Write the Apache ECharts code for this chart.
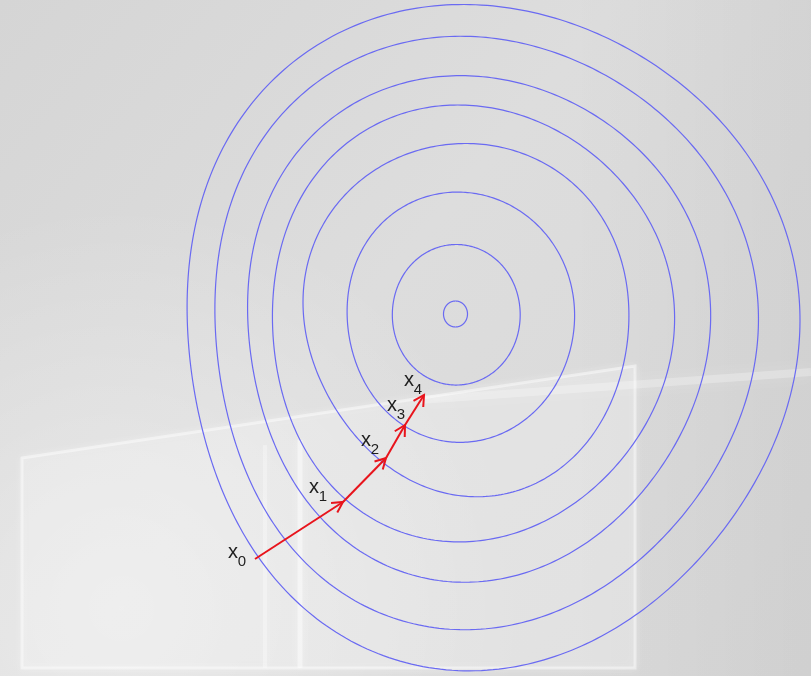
<!DOCTYPE html>
<html>
<head>
<meta charset="utf-8">
<script src="https://cdn.jsdelivr.net/npm/echarts@6/dist/echarts.min.js"></script>
<style>
  html, body { margin: 0; padding: 0; background: #dadada; }
  #chart { width: 811px; height: 676px; }
</style>
</head>
<body>
<div id="chart"></div>
<script>
// Level curves of the cost surface, innermost first.
// Each curve is a closed ring of [x, y] points in plot units (y grows downward).
const level0 = [[455.5,301],[464,304.8],[467.5,314],[464,323.2],[455.5,327],[447,323.2],[443.5,314],[447,304.8]];
const level1 = [[457,245],[497,260],[520,314],[497,370],[457,384],[415,370],[393,314],[415,260]];
const level2 = [[458,192],[497,200],[562.5,260],[575,316],[562.5,370],[518,425],[458,443],[405,425],[358,370],[347,316],[358,260],[415,200]];
const level3 = [[458,143],[587,200],[622,260],[630,314],[622,370],[582,445],[458,500],[386,458],[311,370],[305,314],[311,260],[338.8,200]];
const level4 = [[458,106],[554,130],[638,200],[666.7,260],[673,314],[666.7,370],[630,450],[581,500],[520,532],[458,540],[400,529],[343,502],[305,450],[278.3,370],[273,314],[278.3,260],[298.8,200],[364,130]];
const level5 = [[458,77],[530,86],[616,130],[681,200],[703.5,260],[709,314],[703.5,370],[674,450],[591,540],[458,580],[378,562],[317,518],[280,450],[251.8,370],[248,314],[251.8,260],[269.3,200],[315,130],[380,91]];
const level6 = [[458,38],[569,60],[681,130],[732,200],[750.5,260],[757,314],[750.5,370],[728,450],[664,540],[578,600],[458,628],[355,600],[282,542],[240,450],[219,370],[215,314],[219,260],[232.6,200],[267.3,130],[350,60]];
const level7 = [[458,6.5],[550,18],[648,60],[732,130],[774,200],[793.5,260],[798,314],[793.5,370],[771,450],[720,540],[629,620],[540,660],[458,668],[360,645],[300,606],[255,559],[210,450],[191,370],[188,314],[191,260],[203.5,200],[230.5,130],[289,60],[370,22]];
const levels = [level0, level1, level2, level3, level4, level5, level6, level7];

// Gradient-descent iterates x0 .. x4
const stepIndex = ['0', '1', '2', '3', '4'];
const stepX = [255, 343, 386, 405, 424];
const stepY = [559, 502, 458, 425, 395];

// Where each "x" label sits relative to its iterate (pixels)
const labelShift = [[-22, -7], [-29, -15], [-20, -18], [-13, -20], [-15, -15]];

const contourColor = '#6a6af2';
const arrowColor = '#e8141c';
const textFont = '"Liberation Sans", Arial, sans-serif';

// Solve a small dense linear system (Gaussian elimination, partial pivoting).
function solve(A, b) {
  const n = b.length;
  const M = A.map((row, i) => row.concat([b[i]]));
  for (let c = 0; c < n; c++) {
    let p = c;
    for (let r = c + 1; r < n; r++) if (Math.abs(M[r][c]) > Math.abs(M[p][c])) p = r;
    [M[c], M[p]] = [M[p], M[c]];
    for (let r = c + 1; r < n; r++) {
      const f = M[r][c] / M[c][c];
      for (let k = c; k <= n; k++) M[r][k] -= f * M[c][k];
    }
  }
  const x = new Array(n).fill(0);
  for (let r = n - 1; r >= 0; r--) {
    let s = M[r][n];
    for (let k = r + 1; k < n; k++) s -= M[r][k] * x[k];
    x[r] = s / M[r][r];
  }
  return x;
}

// Smooth closed outline for a ring of pixel points: radius around the ring's
// middle is described by a short Fourier series fitted to the points, which
// keeps the oval smooth and passes within a pixel or two of every point.
function ringOutline(pts) {
  const xs = pts.map(p => p[0]), ys = pts.map(p => p[1]);
  const cx = (Math.min(...xs) + Math.max(...xs)) / 2;
  const cy = (Math.min(...ys) + Math.max(...ys)) / 2;
  const K = pts.length >= 12 ? 3 : 2;
  const basis = a => {
    const v = [1];
    for (let k = 1; k <= K; k++) v.push(Math.cos(k * a), Math.sin(k * a));
    return v;
  };
  const m = 2 * K + 1;
  const A = Array.from({ length: m }, () => new Array(m).fill(0));
  const rhs = new Array(m).fill(0);
  pts.forEach(p => {
    const a = Math.atan2(p[1] - cy, p[0] - cx);
    const r = Math.hypot(p[0] - cx, p[1] - cy);
    const v = basis(a);
    for (let i = 0; i < m; i++) {
      rhs[i] += v[i] * r;
      for (let j = 0; j < m; j++) A[i][j] += v[i] * v[j];
    }
  });
  const c = solve(A, rhs);
  const out = [];
  const steps = 360;
  for (let s = 0; s < steps; s++) {
    const a = (s / steps) * 2 * Math.PI;
    const v = basis(a);
    let r = 0;
    for (let i = 0; i < m; i++) r += c[i] * v[i];
    out.push([cx + r * Math.cos(a), cy + r * Math.sin(a)]);
  }
  return out;
}

const chart = echarts.init(document.getElementById('chart'), null, { renderer: 'canvas' });

chart.setOption({
  animation: false,
  grid: { left: 0, right: 0, top: 0, bottom: 0 },
  xAxis: { type: 'value', min: 0, max: 811, show: false },
  yAxis: { type: 'value', min: 0, max: 676, inverse: true, show: false },
  graphic: [
    {
      type: 'rect', z: -100, silent: true,
      shape: { x: 0, y: 0, width: 811, height: 676 },
      style: {
        fill: new echarts.graphic.LinearGradient(0, 0, 1, 1, [
          { offset: 0, color: '#d5d5d5' },
          { offset: 0.45, color: '#dddddd' },
          { offset: 1, color: '#d8d8d8' }
        ])
      }
    },
    {
      type: 'rect', z: -99, silent: true,
      shape: { x: 0, y: 0, width: 811, height: 676 },
      style: {
        fill: new echarts.graphic.RadialGradient(0.15, 0.9, 0.6, [
          { offset: 0, color: 'rgba(255,255,255,0.4)' },
          { offset: 1, color: 'rgba(255,255,255,0)' }
        ])
      }
    },
    {
      type: 'rect', z: -99, silent: true,
      shape: { x: 0, y: 0, width: 811, height: 676 },
      style: {
        fill: new echarts.graphic.LinearGradient(0, 0, 1, 0, [
          { offset: 0, color: 'rgba(0,0,0,0)' },
          { offset: 0.7, color: 'rgba(0,0,0,0)' },
          { offset: 1, color: 'rgba(0,0,0,0.04)' }
        ])
      }
    },
    // faded monitor in the backdrop
    {
      type: 'polygon', z: -98, silent: true,
      shape: { points: [[22, 458], [635, 366], [635, 668], [22, 668]] },
      style: { fill: 'rgba(255,255,255,0.14)', stroke: 'rgba(255,255,255,0.45)', lineWidth: 3, shadowBlur: 8, shadowColor: 'rgba(255,255,255,0.7)' }
    },
    {
      type: 'line', z: -98, silent: true,
      shape: { x1: 300, y1: 440, x2: 300, y2: 668 },
      style: { stroke: 'rgba(255,255,255,0.45)', lineWidth: 5, shadowBlur: 10, shadowColor: 'rgba(255,255,255,0.8)' }
    },
    {
      type: 'line', z: -98, silent: true,
      shape: { x1: 265, y1: 445, x2: 265, y2: 668 },
      style: { stroke: 'rgba(255,255,255,0.3)', lineWidth: 4, shadowBlur: 10, shadowColor: 'rgba(255,255,255,0.8)' }
    },
    {
      type: 'line', z: -98, silent: true,
      shape: { x1: 420, y1: 400, x2: 811, y2: 372 },
      style: { stroke: 'rgba(255,255,255,0.25)', lineWidth: 8, shadowBlur: 16, shadowColor: 'rgba(255,255,255,0.8)' }
    }
  ],
  series: [
    {
      type: 'custom',
      name: 'level curves',
      coordinateSystem: 'cartesian2d',
      silent: true,
      data: levels.map((_, i) => [i, 0]),
      renderItem: function (params, api) {
        const pts = levels[params.dataIndex].map(p => api.coord(p));
        return {
          type: 'polygon',
          shape: { points: ringOutline(pts) },
          style: { fill: 'none', stroke: contourColor, lineWidth: 1.2 }
        };
      }
    },
    {
      type: 'custom',
      name: 'steps',
      coordinateSystem: 'cartesian2d',
      silent: true,
      z: 3,
      data: stepX.slice(1).map((_, i) => [i, 0]),
      renderItem: function (params, api) {
        const k = params.dataIndex + 1;
        const a = api.coord([stepX[k - 1], stepY[k - 1]]);
        const b = api.coord([stepX[k], stepY[k]]);
        const ang = Math.atan2(b[1] - a[1], b[0] - a[0]);
        const len = 12, spread = 0.5;
        const h1 = [b[0] - len * Math.cos(ang - spread), b[1] - len * Math.sin(ang - spread)];
        const h2 = [b[0] - len * Math.cos(ang + spread), b[1] - len * Math.sin(ang + spread)];
        return {
          type: 'group',
          children: [
            { type: 'line', shape: { x1: a[0], y1: a[1], x2: b[0], y2: b[1] },
              style: { stroke: arrowColor, lineWidth: 2 } },
            { type: 'polyline', shape: { points: [h1, b, h2] },
              style: { stroke: arrowColor, lineWidth: 2, fill: 'none' } }
          ]
        };
      }
    },
    {
      type: 'custom',
      name: 'labels',
      coordinateSystem: 'cartesian2d',
      silent: true,
      z: 4,
      data: stepX.map((_, i) => [i, 0]),
      renderItem: function (params, api) {
        const i = params.dataIndex;
        const p = api.coord([stepX[i], stepY[i]]);
        const s = labelShift[i];
        return {
          type: 'group',
          children: [
            { type: 'text', x: p[0] + s[0], y: p[1] + s[1],
              style: { text: 'x', fontSize: 20, fontFamily: textFont, fill: '#1e1e1e', align: 'center', verticalAlign: 'middle' } },
            { type: 'text', x: p[0] + s[0] + 9, y: p[1] + s[1] + 10,
              style: { text: stepIndex[i], fontSize: 15, fontFamily: textFont, fill: '#1e1e1e', align: 'center', verticalAlign: 'middle' } }
          ]
        };
      }
    }
  ]
});
</script>
</body>
</html>
